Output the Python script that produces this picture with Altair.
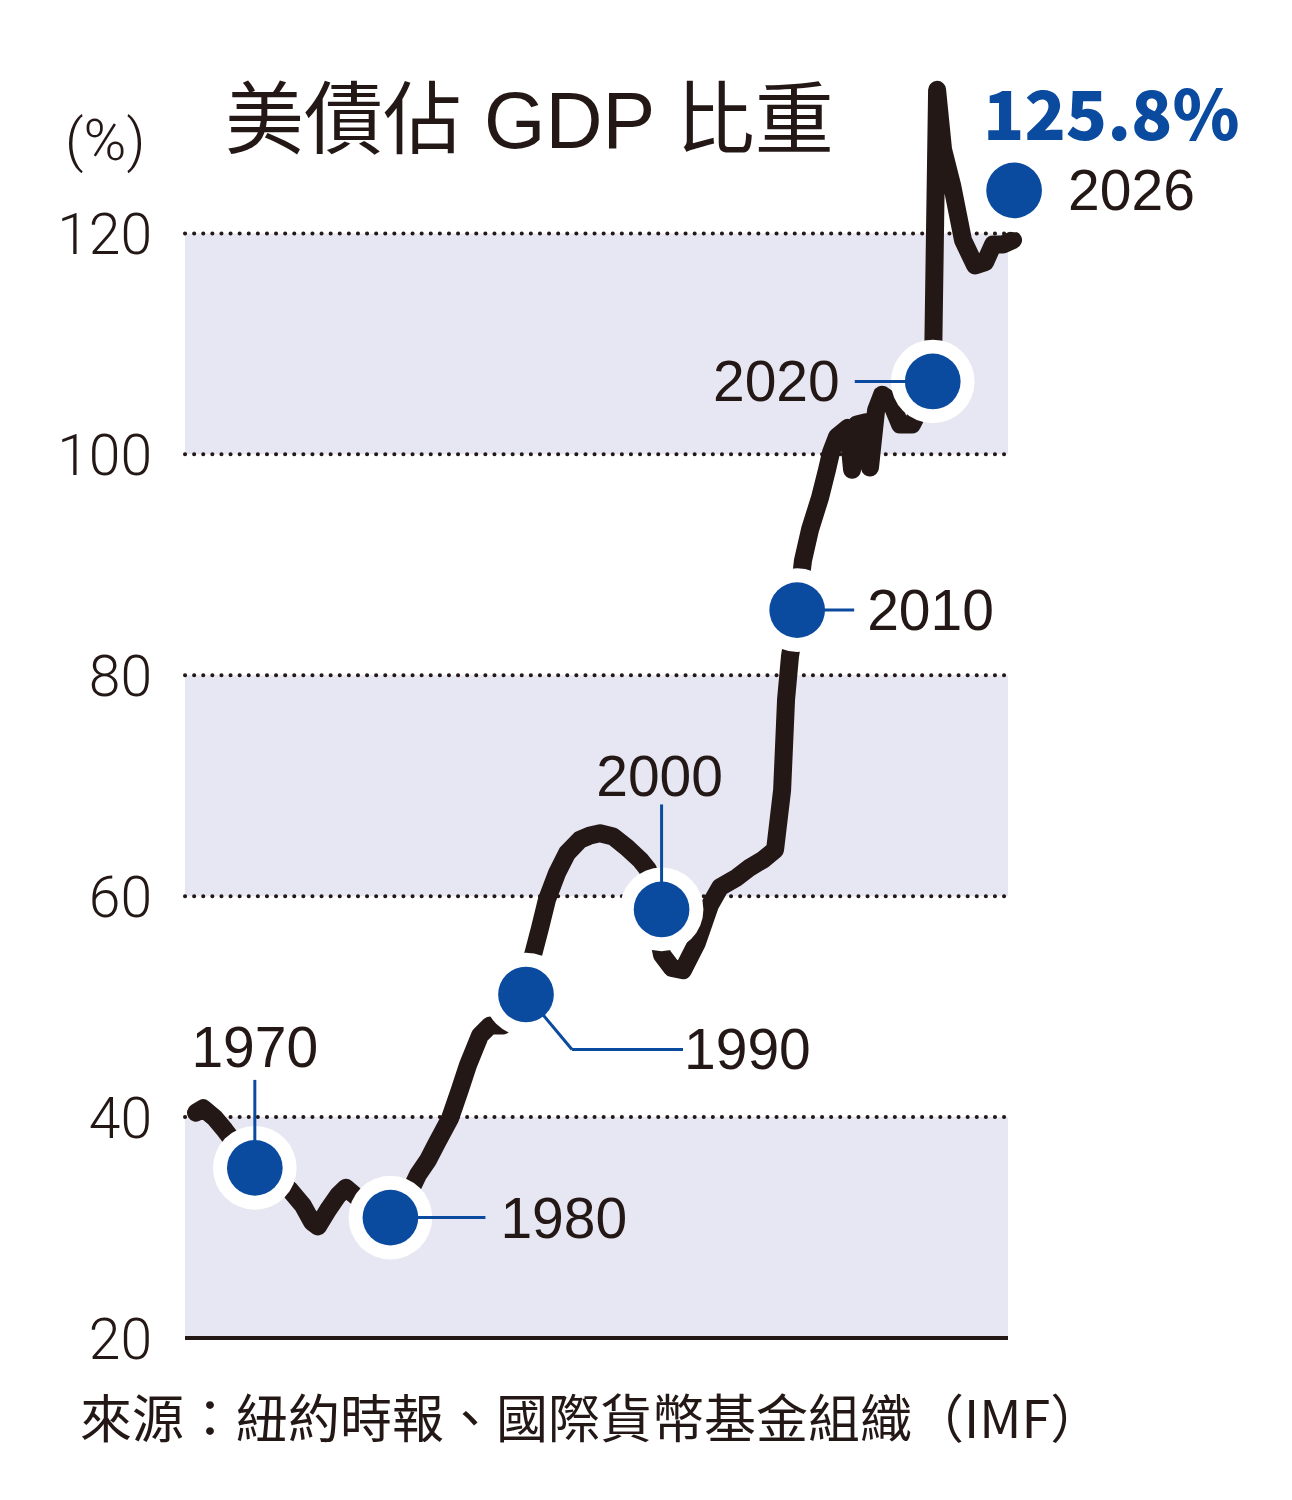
import altair as alt
import pandas as pd

# ---------------- data ----------------
line_years = [1965.66, 1966.18, 1967.06, 1967.80, 1968.91, 1970.01, 1971.49, 1972.59,
              1973.55, 1974.22, 1974.66, 1975.40, 1976.13, 1976.72, 1977.39, 1978.64,
              1979.97, 1981.30, 1982.04, 1982.77, 1983.36, 1984.40, 1985.13, 1985.72,
              1986.61, 1987.35, 1988.30, 1989.19, 1990.00, 1990.52, 1991.03, 1991.55,
              1992.29, 1993.03, 1993.98, 1994.72, 1995.46, 1996.42, 1997.45, 1998.41,
              1999.00, 1999.52, 2000.03, 2000.77, 2001.58, 2002.61, 2003.57, 2004.31,
              2005.56, 2006.52, 2007.48, 2008.37, 2008.89, 2009.18, 2009.47, 2010.00,
              2010.43, 2010.95, 2011.69, 2012.20, 2012.50, 2012.94, 2013.75, 2014.05,
              2014.41, 2015.08, 2015.37, 2015.82, 2016.26, 2016.85, 2017.59, 2018.47,
              2019.21, 2020.00, 2020.32, 2020.76, 2021.42, 2021.86, 2022.23, 2023.12,
              2023.86, 2024.45, 2025.18, 2025.92]
line_values = [40.4, 40.8, 39.9, 38.8, 37.0, 35.7, 34.5, 33.4,
               32.0, 30.5, 30.1, 31.6, 32.9, 33.6, 32.9, 31.6,
               31.1, 32.9, 34.8, 36.1, 37.5, 39.9, 42.5, 44.7,
               47.4, 48.3, 48.3, 50.1, 51.5, 54.7, 57.1, 59.7,
               62.1, 63.9, 65.1, 65.5, 65.7, 65.4, 64.4, 63.3,
               62.4, 57.8, 54.7, 53.5, 53.3, 55.8, 59.2, 60.8,
               61.7, 62.6, 63.3, 64.2, 69.6, 77.8, 81.7, 85.9,
               90.4, 93.2, 96.1, 98.6, 100.2, 101.6, 102.4, 98.6,
               102.7, 102.9, 98.8, 104.0, 105.4, 104.9, 102.7, 102.7,
               104.5, 106.3, 133.0, 127.6, 124.4, 121.7, 119.4, 117.1,
               117.4, 119.0, 119.0, 119.4]

dot_years = [1970, 1980, 1990, 2000, 2010, 2020, 2026]
dot_values = [35.4, 30.9, 51.1, 58.8, 85.9, 106.6, 123.9]
dot_labels = ["1970", "1980", "1990", "2000", "2010", "2020", "2026"]

band_lo = [20, 60, 100]
band_hi = [40, 80, 120]
grid_values = [40, 60, 80, 100, 120]
y_ticks = [20, 40, 60, 80, 100, 120]
y_tick_labels = ["20", "40", "60", "80", "100", "120"]

title_text = "美債佔 GDP 比重"
unit_text = "(%)"
highlight_text = "125.8%"
source_text = "來源：紐約時報、國際貨幣基金組織（IMF）"

# ---------------- layout / style ----------------
W, H = 823, 1215
X_DOMAIN = [1964.85, 2025.55]
Y_DOMAIN = [20, 130]
PX_YEAR = W / (X_DOMAIN[1] - X_DOMAIN[0])
PX_VAL = H / (Y_DOMAIN[1] - Y_DOMAIN[0])

INK = "#231815"
BLUE = "#0a4a9f"
BAND = "#e7e7f3"
NUM_FONT = "Liberation Sans"

# label placement (pixel offsets from dot centre, text baseline) and alignment
label_offsets = {
    "1970": (0, -101, "center"),
    "1980": (110, 20, "left"),
    "1990": (158, 75, "left"),
    "2000": (-2, -113, "center"),
    "2010": (70, 20, "left"),
    "2020": (-93, 20, "right"),
    "2026": (54, 20, "left"),
}
# leader segments (pixel offsets from dot centre)
leader_segments = {
    "1970": [((0, 0), (0, -88))],
    "1980": [((0, 0), (95, 0))],
    "1990": [((0, 0), (46, 55)), ((46, 55), (157, 55))],
    "2000": [((0, 0), (0, -105))],
    "2010": [((0, 0), (57, 0))],
    "2020": [((0, 0), (-78, 0))],
}

xs = alt.Scale(domain=X_DOMAIN, nice=False, zero=False)
ys = alt.Scale(domain=Y_DOMAIN, nice=False, zero=False)

# ---------------- tables ----------------
line_df = pd.DataFrame({"year": line_years, "value": line_values})
dots_df = pd.DataFrame({"year": dot_years, "value": dot_values, "label": dot_labels})

lab_rows = []
for yr, v, lab in zip(dot_years, dot_values, dot_labels):
    dx, dy, al = label_offsets[lab]
    lab_rows.append({"lx": yr + dx / PX_YEAR, "ly": v - dy / PX_VAL, "label": lab, "align": al})
lab_df = pd.DataFrame(lab_rows)

lead_rows = []
for yr, v, lab in zip(dot_years, dot_values, dot_labels):
    for (a, b) in leader_segments.get(lab, []):
        lead_rows.append({
            "x": yr + a[0] / PX_YEAR, "y": v - a[1] / PX_VAL,
            "x2": yr + b[0] / PX_YEAR, "y2": v - b[1] / PX_VAL,
        })
lead_df = pd.DataFrame(lead_rows)

# ---------------- layers ----------------
bands = alt.Chart(pd.DataFrame({"lo": band_lo, "hi": band_hi})).mark_rect(color=BAND).encode(
    x=alt.value(0), x2=alt.value(W),
    y=alt.Y("lo:Q", scale=ys, axis=None),
    y2="hi:Q",
)

ticklabels = alt.Chart(pd.DataFrame({"v": y_ticks, "t": y_tick_labels})).mark_text(
    align="right", baseline="alphabetic", dy=21,
    font="Roboto", fontWeight=300, fontSize=57, color=INK,
).encode(x=alt.value(-33), y=alt.Y("v:Q", scale=ys, axis=None), text="t:N")

grid = alt.Chart(pd.DataFrame({"v": grid_values})).mark_rule(
    color=INK, strokeWidth=4, strokeDash=[0.1, 9], strokeCap="round"
).encode(y=alt.Y("v:Q", scale=ys, axis=None), x=alt.value(0), x2=alt.value(W))

base = alt.Chart(pd.DataFrame({"v": [y_ticks[0]]})).mark_rule(
    color=INK, strokeWidth=4
).encode(y=alt.Y("v:Q", scale=ys, axis=None), x=alt.value(0), x2=alt.value(W))

line = alt.Chart(line_df).mark_line(
    color=INK, strokeWidth=18, strokeCap="round", strokeJoin="round"
).encode(
    x=alt.X("year:Q", scale=xs, axis=None),
    y=alt.Y("value:Q", scale=ys, axis=None),
)

halos = alt.Chart(dots_df).mark_circle(color="white", opacity=1, size=7000).encode(
    x=alt.X("year:Q", scale=xs, axis=None),
    y=alt.Y("value:Q", scale=ys, axis=None),
)

leaders = alt.Chart(lead_df).mark_rule(color=BLUE, strokeWidth=3).encode(
    x=alt.X("x:Q", scale=xs, axis=None), x2="x2:Q",
    y=alt.Y("y:Q", scale=ys, axis=None), y2="y2:Q",
)

dots = alt.Chart(dots_df).mark_circle(color=BLUE, opacity=1, size=3100).encode(
    x=alt.X("year:Q", scale=xs, axis=None),
    y=alt.Y("value:Q", scale=ys, axis=None),
)


def label_layer(al):
    return alt.Chart(lab_df).transform_filter(alt.datum.align == al).mark_text(
        font=NUM_FONT, fontSize=57, color=INK, align=al, baseline="alphabetic"
    ).encode(
        x=alt.X("lx:Q", scale=xs, axis=None),
        y=alt.Y("ly:Q", scale=ys, axis=None),
        text="label:N",
    )


def note(text, x, y, **kw):
    return alt.Chart(pd.DataFrame({"t": [text]})).mark_text(
        align="left", baseline="alphabetic", **kw
    ).encode(x=alt.value(x), y=alt.value(y), text="t:N")


title = note(title_text, 40, 25, font="Liberation Sans, Noto Sans CJK TC", fontSize=79, color=INK)
unit = note(unit_text, -120, 37, font="Roboto", fontWeight=300, fontSize=58, color=INK)
highlight = note(highlight_text, 798, 17, font="Noto Sans CJK TC",
                 fontWeight=900, fontSize=68, color=BLUE)
source = note(source_text, -105, 1315, font="Noto Sans CJK TC", fontSize=52, color=INK)

chart = alt.layer(
    bands, grid, base, ticklabels, line, halos, leaders, dots,
    label_layer("left"), label_layer("center"), label_layer("right"),
    title, unit, highlight, source,
).properties(
    width=W, height=H,
    padding={"left": 177, "top": 115, "right": 276, "bottom": 154},
    autosize=alt.AutoSizeParams(type="none"),
    background="white",
).configure_view(strokeWidth=0)

chart.save("out.html", embed_options={"renderer": "svg", "actions": False})
